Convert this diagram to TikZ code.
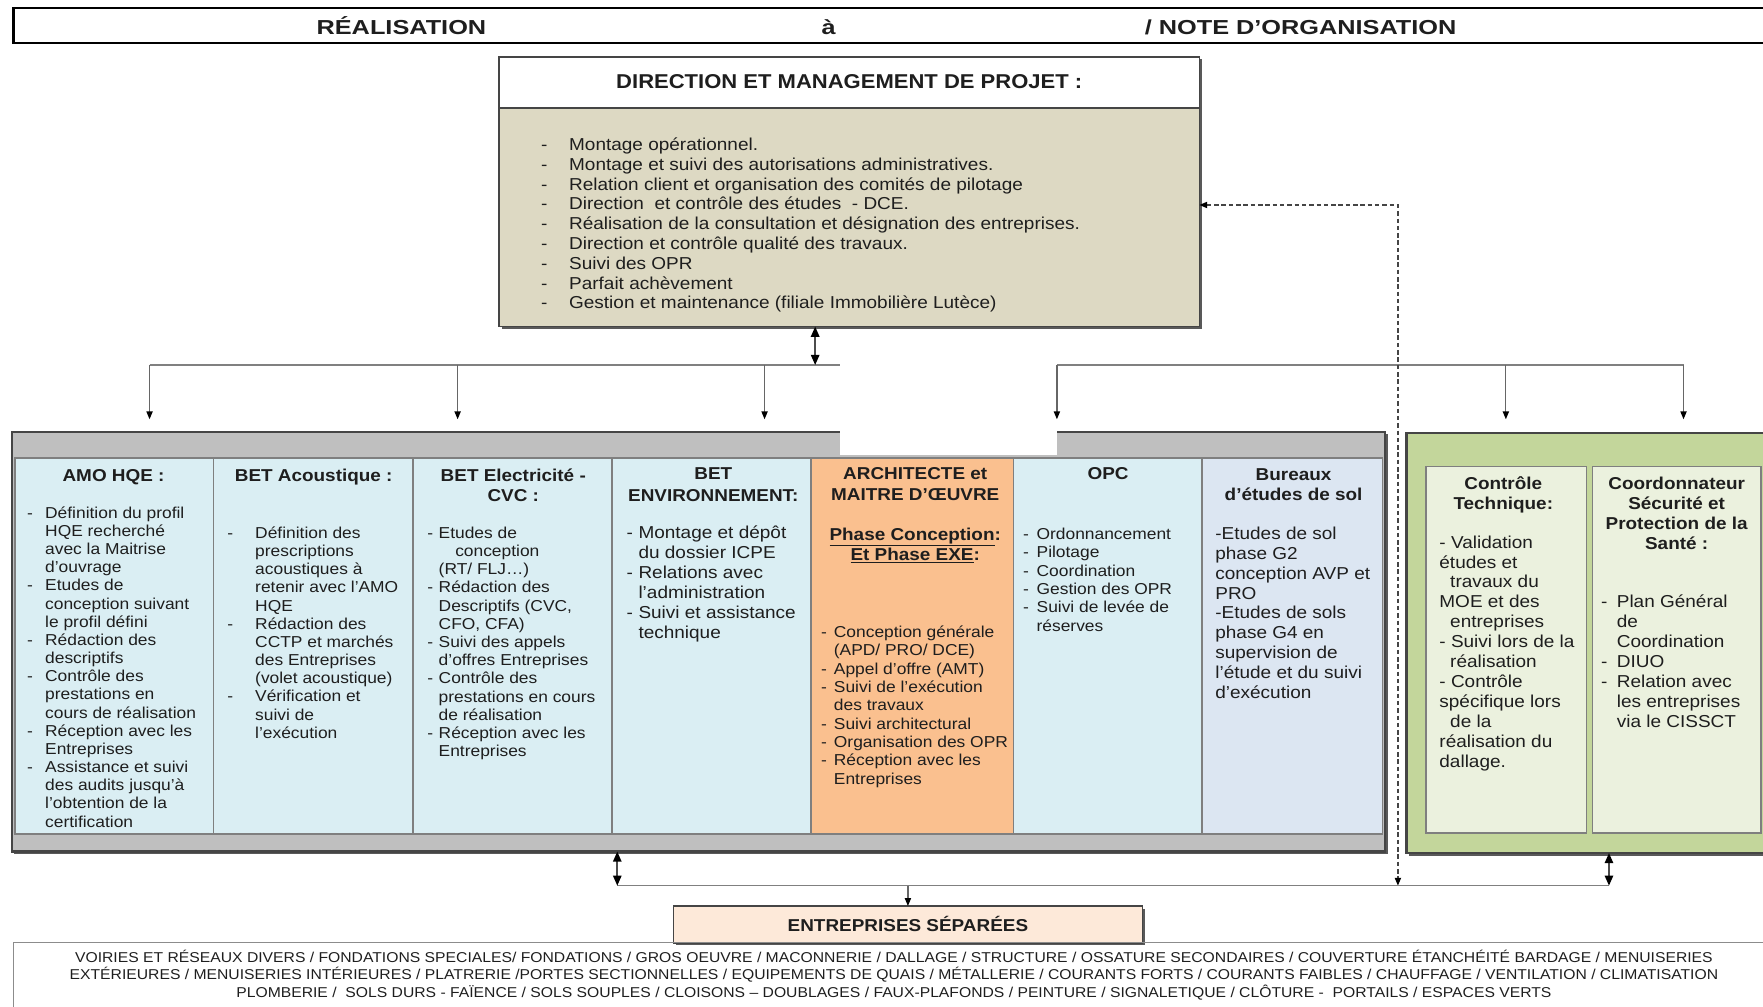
\documentclass[tikz,border=0pt]{standalone}
\usepackage{fontspec}
\setmainfont{Liberation Sans}[FakeStretch=1.1]
\newfontfamily\titlefont{Liberation Sans}[FakeStretch=1.25]
\usetikzlibrary{arrows.meta,shadows}
\definecolor{tanc}{HTML}{DDD9C3}
\definecolor{lblue}{HTML}{DAEEF3}
\definecolor{lbluetwo}{HTML}{DCE6F2}
\definecolor{orng}{HTML}{FAC08F}
\definecolor{grn}{HTML}{C3D69B}
\definecolor{lgrn}{HTML}{EBF1DE}
\definecolor{peach}{HTML}{FDE9D9}
\definecolor{greyfill}{HTML}{BFBFBF}
\definecolor{edge}{HTML}{454545}
\definecolor{coledge}{HTML}{7F7F7F}
\definecolor{linec}{HTML}{808080}
\definecolor{ink}{HTML}{1E1E1E}
\newcommand\bd[1]{\makebox[0pt][r]{\makebox[#1][l]{-}}}
\newcommand\fsm[1]{\fontsize{14.06}{#1}\selectfont}
\newcommand\flg[1]{\fontsize{15.35}{#1}\selectfont}
\newcommand\fhd[1]{\bfseries\fontsize{15.3}{#1}\selectfont}
\newcommand\LinesL[1]{\begin{tabular}[t]{@{}l@{}}#1\end{tabular}}
\newcommand\LinesC[1]{\begin{tabular}[t]{@{}c@{}}#1\end{tabular}}
\begin{document}
\begin{tikzpicture}[x=1pt,y=-1pt,
  box/.style={draw=edge, line width=1.5pt, inner sep=0pt, outer sep=0pt, anchor=north west},
  col/.style={draw=coledge, line width=1.5pt, inner sep=0pt, outer sep=0pt, anchor=north west, minimum height=333.9pt},
  gcol/.style={draw=coledge, line width=1.5pt, inner sep=0pt, outer sep=0pt, anchor=north west, minimum height=326pt, fill=lgrn},
  shad/.style={drop shadow={shadow xshift=2.2pt, shadow yshift=-2.2pt, fill=black!65, opacity=1}},
  body/.style={inner sep=0pt, anchor=base west, text=ink},
  head/.style={inner sep=0pt, anchor=base, text=ink},
  tipa/.tip={Triangle[length=7pt,width=5.5pt,color=black]},
  tipb/.tip={Triangle[length=9pt,width=7.5pt,color=black]},
  arr/.style={draw=black!60, line width=1.1pt, -tipa},
  darr/.style={draw=black!70, line width=1.4pt, tipb-tipb},
  bus/.style={draw=linec, line width=1.4pt},
  dsh/.style={draw=edge, line width=1.3pt, dash pattern=on 4pt off 2.5pt, tipa-tipa}
]
\useasboundingbox (0,0) rectangle (1568,895);

% ---- title bar
\node[box, draw=black, line width=2pt, fill=white, minimum width=1575pt, minimum height=31.1pt] (bar) at (12,7.4) {};
\begin{scope}[every node/.style={inner sep=0pt, text=ink, font=\titlefont\bfseries\fontsize{18}{20}\selectfont}]
\node[anchor=base] (tR) at (357,31) {RÉALISATION};
\node[anchor=base] (tA) at (737,31) {à};
\node[anchor=base west] (tN) at (1018,31) {/ NOTE D’ORGANISATION};
\end{scope}

% ---- direction box
\node[box, shad, fill=white, minimum width=622.7pt, minimum height=45.9pt] (dirh) at (444,50.4) {};
\node[box, shad, fill=tanc, minimum width=622.7pt, minimum height=194.2pt] (dir) at (444,96.3) {};
\node[head, font=\bfseries\fontsize{17.8}{20}\selectfont] (dht) at (755.3,79) {DIRECTION ET MANAGEMENT DE PROJET :};
\node[body, font=\flg{17.6}] (dlist) at (506,133.9) {\LinesL{%
\bd{25pt}Montage opérationnel.\\
\bd{25pt}Montage et suivi des autorisations administratives.\\
\bd{25pt}Relation client et organisation des comités de pilotage\\
\bd{25pt}Direction~ et contrôle des études~ - DCE.\\
\bd{25pt}Réalisation de la consultation et désignation des entreprises.\\
\bd{25pt}Direction et contrôle qualité des travaux.\\
\bd{25pt}Suivi des OPR\\
\bd{25pt}Parfait achèvement\\
\bd{25pt}Gestion et maintenance (filiale Immobilière Lutèce)}};

% ---- grey group
\node[box, shad, draw=edge, line width=2pt, fill=greyfill, minimum width=1221.7pt, minimum height=373.5pt] (grey) at (10.4,383.9) {};
\node[col, fill=lblue, minimum width=176.5pt] (c1) at (13.3,407.6) {};
\node[col, fill=lblue, minimum width=177.8pt] (c2) at (189.8,407.6) {};
\node[col, fill=lblue, minimum width=176.4pt] (c3) at (367.6,407.6) {};
\node[col, fill=lblue, minimum width=177pt] (c4) at (544,407.6) {};
\node[col, fill=orng, minimum width=180.4pt] (c5) at (721,407.6) {};
\node[col, fill=lblue, minimum width=167.4pt] (c6) at (901.4,407.6) {};
\node[col, fill=lbluetwo, minimum width=160.7pt] (c7) at (1068.8,407.6) {};
\fill[white] (747,316) rectangle (940,405);

% ---- green group
\node[box, shad, draw=edge, line width=2pt, fill=grn, minimum width=330pt, minimum height=373.3pt] (green) at (1250.9,385.4) {};
\node[gcol, minimum width=142.9pt] (g1) at (1268.2,415) {};
\node[gcol, minimum width=149.7pt] (g2) at (1416.2,415) {};

% ---- column texts
\node[head, font=\fhd{17.7}] (h1) at (101,428) {AMO HQE :};
\node[body, font=\fsm{16.15}] (b1) at (40,461) {\LinesL{%
\bd{16pt}Définition du profil\\
HQE recherché\\
avec la Maitrise\\
d’ouvrage\\
\bd{16pt}Etudes de\\
conception suivant\\
le profil défini\\
\bd{16pt}Rédaction des\\
descriptifs\\
\bd{16pt}Contrôle des\\
prestations en\\
cours de réalisation\\
\bd{16pt}Réception avec les\\
Entreprises\\
\bd{16pt}Assistance et suivi\\
des audits jusqu’à\\
l’obtention de la\\
certification}};

\node[head, font=\fhd{17.7}] (h2) at (279,428) {BET Acoustique :};
\node[body, font=\fsm{16.17}] (b2) at (226.8,478.8) {\LinesL{%
\bd{24.8pt}Définition des\\
prescriptions\\
acoustiques à\\
retenir avec l’AMO\\
HQE\\
\bd{24.8pt}Rédaction des\\
CCTP et marchés\\
des Entreprises\\
(volet acoustique)\\
\bd{24.8pt}Vérification et\\
suivi de\\
l’exécution}};

\node[head, font=\fhd{17.7}] (h3) at (456.5,428) {\LinesC{BET Electricité -\\CVC :}};
\node[body, font=\fsm{16.18}] (b3) at (390,478.8) {\LinesL{%
\bd{10pt}Etudes de\\
\hspace{14.7pt}conception\\
(RT/ FLJ…)\\
\bd{10pt}Rédaction des\\
Descriptifs (CVC,\\
CFO, CFA)\\
\bd{10pt}Suivi des appels\\
d’offres Entreprises\\
\bd{10pt}Contrôle des\\
prestations en cours\\
de réalisation\\
\bd{10pt}Réception avec les\\
Entreprises}};

\node[head, font=\fhd{19.2}] (h4) at (634.4,426.5) {\LinesC{BET\\ENVIRONNEMENT:}};
\node[body, font=\flg{17.8}] (b4) at (567.7,479.2) {\LinesL{%
\bd{10.5pt}Montage et dépôt\\
du dossier ICPE\\
\bd{10.5pt}Relations avec\\
l’administration\\
\bd{10.5pt}Suivi et assistance\\
technique}};

\node[head, font=\fhd{18.4}] (h5) at (814,426.5) {\LinesC{ARCHITECTE et\\MAITRE D’ŒUVRE}};
\node[head, font=\fhd{17.5}] (h5b) at (814,480.7) {\LinesC{\underline{Phase Conception}:\\\underline{Et Phase EXE}:}};
\node[body, font=\fsm{16.3}] (b5) at (741.5,566.9) {\LinesL{%
\bd{11.5pt}Conception générale\\
(APD/ PRO/ DCE)\\
\bd{11.5pt}Appel d’offre (AMT)\\
\bd{11.5pt}Suivi de l’exécution\\
des travaux\\
\bd{11.5pt}Suivi architectural\\
\bd{11.5pt}Organisation des OPR\\
\bd{11.5pt}Réception avec les\\
Entreprises}};

\node[head, font=\fhd{17.7}] (h6) at (985.5,426.5) {OPC};
\node[body, font=\fsm{16.3}] (b6) at (921.8,479.7) {\LinesL{%
\bd{12pt}Ordonnancement\\
\bd{12pt}Pilotage\\
\bd{12pt}Coordination\\
\bd{12pt}Gestion des OPR\\
\bd{12pt}Suivi de levée de\\
réserves}};

\node[head, font=\fhd{17.7}] (h7) at (1150.5,427.5) {\LinesC{Bureaux\\d’études de sol}};
\node[body, font=\flg{17.6}] (b7) at (1080.7,480.1) {\LinesL{%
-Etudes de sol\\
phase G2\\
conception AVP et\\
PRO\\
-Etudes de sols\\
phase G4 en\\
supervision de\\
l’étude et du suivi\\
d’exécution}};

\node[head, font=\fhd{17.7}] (hg1) at (1337,435.4) {\LinesC{Contrôle\\Technique:}};
\node[body, font=\flg{17.7}] (bg1) at (1280,487.5) {\LinesL{%
- Validation\\
études et\\
\hspace{9.6pt}travaux du\\
MOE et des\\
\hspace{9.6pt}entreprises\\
- Suivi lors de la\\
\hspace{9.6pt}réalisation\\
- Contrôle\\
spécifique lors\\
\hspace{9.6pt}de la\\
réalisation du\\
dallage.}};

\node[head, font=\fhd{17.8}] (hg2) at (1491.2,435.4) {\LinesC{Coordonnateur\\Sécurité et\\Protection de la\\Santé :}};
\node[body, font=\flg{17.8}] (bg2) at (1437.8,540) {\LinesL{%
\bd{14pt}Plan Général\\
de\\
Coordination\\
\bd{14pt}DIUO\\
\bd{14pt}Relation avec\\
les entreprises\\
via le CISSCT}};

% ---- entreprises
\node[box, shad, fill=peach, minimum width=417pt, minimum height=32.6pt] (ent) at (599,805.8) {};
\node[head, font=\bfseries\fontsize{15.3}{17}\selectfont] (entt) at (807.5,828.5) {ENTREPRISES SÉPARÉES};
\node[box, draw=black!45, line width=1pt, fill=none, minimum width=1575pt, minimum height=70pt] (lots) at (12,838.4) {};
\node[head, font=\fontsize{12.7}{15}\selectfont] (lotst) at (795,855.9) {\LinesC{%
VOIRIES ET RÉSEAUX DIVERS / FONDATIONS SPECIALES/ FONDATIONS / GROS OEUVRE / MACONNERIE / DALLAGE / STRUCTURE / OSSATURE SECONDAIRES / COUVERTURE ÉTANCHÉITÉ BARDAGE / MENUISERIES\\
EXTÉRIEURES / MENUISERIES INTÉRIEURES / PLATRERIE /PORTES SECTIONNELLES / EQUIPEMENTS DE QUAIS / MÉTALLERIE / COURANTS FORTS / COURANTS FAIBLES / CHAUFFAGE / VENTILATION / CLIMATISATION\\
PLOMBERIE /~ SOLS DURS - FAÏENCE / SOLS SOUPLES / CLOISONS – DOUBLAGES / FAUX-PLAFONDS / PEINTURE / SIGNALETIQUE / CLÔTURE -~ PORTAILS / ESPACES VERTS}};

% ---- connectors (top)
\coordinate (busL) at (133,324.6);
\coordinate (gapL) at (747,324.6);
\coordinate (gapR) at (940,324.6);
\coordinate (busR) at (1497.3,324.6);
\coordinate (mid) at (725,324.6);
\draw[bus] (busL) -- (gapL);
\draw[bus] (gapR) -- (busR);
\draw[darr] (dir.south -| mid) -- (mid);
\coordinate (d1) at (133,372.9);
\coordinate (d2) at (407,372.9);
\coordinate (d3) at (680,372.9);
\coordinate (d4) at (940,372.9);
\coordinate (d5) at (1339.3,372.9);
\coordinate (d6) at (1497.3,372.9);
\foreach \d in {d1,d2,d3,d4,d5,d6} \draw[arr] (\d |- busL) -- (\d);

% ---- dashed connector
\coordinate (dk) at (1243.3,182.3);
\coordinate (dkb) at (1243.3,787.7);
\draw[dsh] (dir.east |- dk) -- (dk) -- (dkb);

% ---- connectors (bottom)
\coordinate (la) at (549,787.7);
\coordinate (ra) at (1431,787.7);
\draw[bus] (la) -- (ra);
\draw[darr] (grey.south -| la) -- (la);
\draw[darr] (green.south -| ra) -- (ra);
\draw[arr] (ent.north |- la) -- (ent.north);
\end{tikzpicture}
\end{document}
